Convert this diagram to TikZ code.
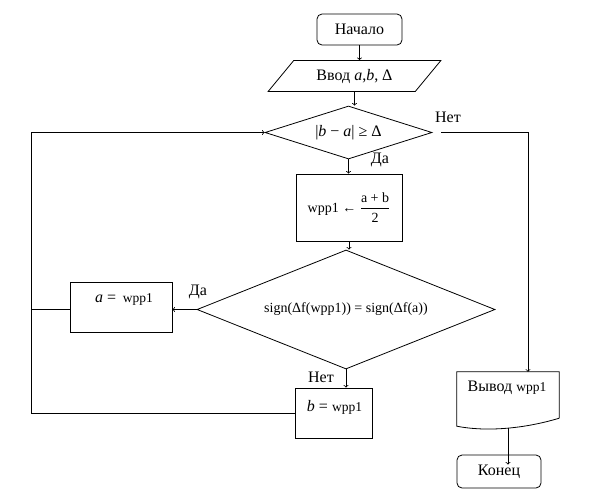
\documentclass[tikz,border=0pt]{standalone}
\usepackage{fontspec}
\usepackage{amsmath}
\setmainfont{Liberation Serif}
\usetikzlibrary{shapes.geometric,calc}

\begin{document}
\begin{tikzpicture}[x=1pt,y=-1pt,
 every node/.style={font=\fontsize{16}{19}\selectfont},
 blk/.style={draw,inner sep=0pt,line width=0.8pt},
 term/.style={blk,rectangle,rounded corners=5pt},
 proc/.style={blk,rectangle},
 cond/.style={blk,diamond,aspect=3},
 io/.style={blk,trapezium,trapezium left angle=41.5,trapezium right angle=138.5,trapezium stretches=true},
 sm/.style={font=\fontsize{14}{17}\selectfont},
 ln/.style={line width=0.8pt},
 arr/.style={ln,->}]

\def\wpp{{\fontsize{13.5}{16}\selectfont wpp1}}
\useasboundingbox (0,0) rectangle (590,496);

% blocks
\node[term,minimum width=85,minimum height=31] (start) at (359.5,29.5) {Начало\hspace{14pt}};
\node[io,minimum width=173,minimum height=31] (inp) at (354.5,76) {Ввод \textit{a},\textit{b}, Δ};
\node[cond,minimum width=167,minimum height=53] (chk) at (348.5,132.5) {|\textit{b} − \textit{a}| ≥ Δ};
\node[proc,sm,minimum width=106,minimum height=67] (mid) at (349,207.5) {wpp1 ← $\dfrac{\text{a + b}}{\text{2}}$};
\node[cond,sm,minimum width=298,minimum height=119] (sgn) at (346,309.5) {sign(Δf(wpp1)) = sign(Δf(a))};
\node[proc,minimum width=102,minimum height=50] (seta) at (121,307) {};
\node (atxt) at (124,299) {\textit{a} =\, \wpp};
\node[proc,minimum width=77,minimum height=50] (setb) at (333.5,413) {};
\node (btxt) at (334.5,407) {\textit{b} = \wpp};
\node[minimum width=102,minimum height=46,inner sep=0pt] (out) at (508,395) {};
\node (otxt) at (507,388) {Вывод \wpp};
\node[term,minimum width=84,minimum height=33] (fin) at (499,471.5) {Конец\hspace{18pt}};
\coordinate (rail) at (31,131);

% document shape
\draw[ln] (out.south east) -- (out.north east) -- (out.north west)
 -- ($(out.south west)+(0,8)$) .. controls +(25,5) and +(-40,12) .. (out.south east);

% connectors
\draw[arr] (start.south) -- (start.south |- inp.north);
\draw[arr] (inp.south) -- (inp.south |- chk.north);
\draw[arr] (chk.south) -- (chk.south |- mid.north);
\draw[arr] (mid.south) -- (mid.south |- sgn.north);
\draw[arr] (sgn.west) -- (sgn.west -| seta.east);
\draw[arr] (sgn.south) -- (sgn.south |- setb.north);
\draw[ln] (sgn.west -| seta.west) -- (sgn.west -| rail);
\draw[arr] (setb.west) -- (setb.west -| rail) |- (chk.west);
\draw[arr] ([xshift=9pt]chk.east) -| ([xshift=20pt]out.north);
\draw[arr] ([yshift=-10pt]out.south) -- ([yshift=-10pt]out.south |- fin.north);

% labels
\node (yes1) at (380,160) {Да};
\node (no1) at (448,117) {Нет};
\node (yes2) at (198,292) {Да};
\node (no2) at (321,377) {Нет};

\end{tikzpicture}
\end{document}
